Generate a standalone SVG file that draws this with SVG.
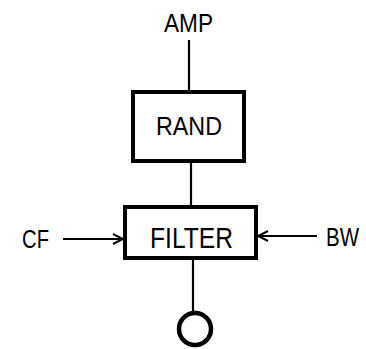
<svg xmlns="http://www.w3.org/2000/svg" width="366" height="349" viewBox="0 0 366 349">
<style>
  .box { fill: #fff; stroke: #000; stroke-width: 4; }
  .wire { stroke: #000; stroke-width: 2.2; fill: none; }
  .lbl { font-family: "Liberation Sans", Arial, sans-serif; fill: #000; }
</style>
<defs>
  <marker id="arr" viewBox="0 0 12 12" refX="11" refY="6" markerWidth="12" markerHeight="12" markerUnits="userSpaceOnUse" orient="auto">
    <path d="M1,1 L11,6 L1,11" fill="none" stroke="#000" stroke-width="2"/>
  </marker>
</defs>
<rect width="366" height="349" fill="#fff"/>
<g id="connectors">
  <line class="wire" x1="189" y1="40" x2="189" y2="92"/>
  <line class="wire" x1="191" y1="161" x2="191" y2="207"/>
  <line class="wire" x1="193" y1="258" x2="193" y2="312"/>
  <line class="wire" x1="63" y1="239" x2="123" y2="239" marker-end="url(#arr)"/>
  <line class="wire" x1="317" y1="236" x2="258" y2="236" marker-end="url(#arr)"/>
</g>
<g id="amp">
  <text class="lbl" x="164" y="32" font-size="25" textLength="49" lengthAdjust="spacingAndGlyphs">AMP</text>
</g>
<g id="rand">
  <rect class="box" x="133" y="92" width="111" height="69"/>
  <text class="lbl" x="156" y="135" font-size="25" textLength="66" lengthAdjust="spacingAndGlyphs">RAND</text>
</g>
<g id="filter">
  <rect class="box" x="125" y="207" width="131" height="51"/>
  <text class="lbl" x="150" y="248" font-size="29" textLength="83" lengthAdjust="spacingAndGlyphs">FILTER</text>
</g>
<g id="cf">
  <text class="lbl" x="22" y="248" font-size="25" textLength="27" lengthAdjust="spacingAndGlyphs">CF</text>
</g>
<g id="bw">
  <text class="lbl" x="326" y="246" font-size="25" textLength="33" lengthAdjust="spacingAndGlyphs">BW</text>
</g>
<g id="output">
  <circle cx="195" cy="329" r="16" fill="none" stroke="#000" stroke-width="4.5"/>
</g>
</svg>
